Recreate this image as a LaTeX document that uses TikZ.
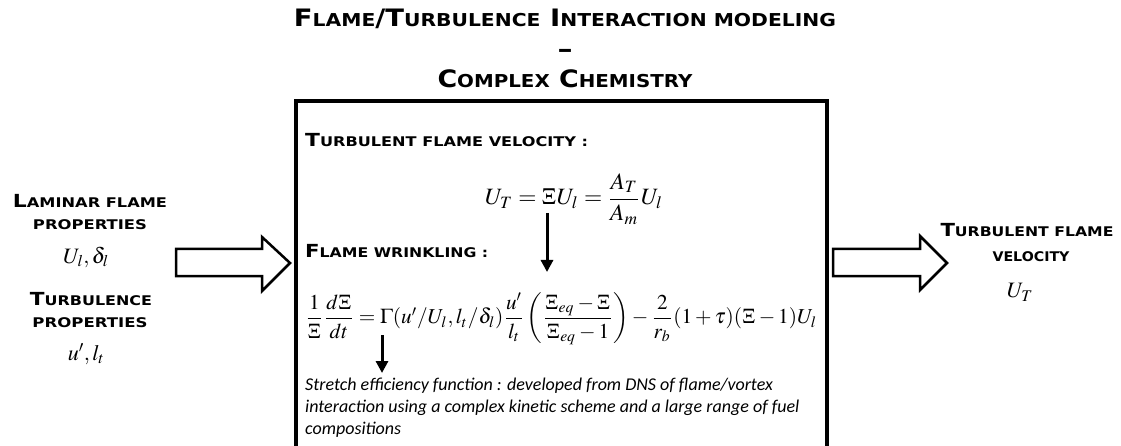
\documentclass[tikz,border=0pt]{standalone}
\usepackage{amsmath}
\usepackage{mathptmx}
\usepackage[no-math]{fontspec}
\usepackage{graphicx}
\usetikzlibrary{arrows.meta}

\newfontfamily\headfont{DejaVu Sans}
\newfontfamily\notefont{Carlito}
\newcommand\lcap[1]{\scalebox{0.74}{\MakeUppercase{#1}}}
\newcommand\fitw[2]{\resizebox{#1}{\height}{#2}}

\tikzset{
  titletxt/.style={font=\headfont\bfseries\fontsize{24}{28}\selectfont, inner sep=0pt, anchor=base},
  headtxt/.style={font=\headfont\bfseries\fontsize{18}{22}\selectfont, inner sep=0pt, anchor=base west},
  sidetxt/.style={font=\headfont\bfseries\fontsize{18}{22}\selectfont, inner sep=0pt, anchor=base},
  sidemath/.style={font=\fontsize{22}{26}\selectfont, inner sep=0pt, anchor=base},
  notetxt/.style={font=\notefont\itshape\fontsize{18}{22}\selectfont, inner sep=0pt, align=left, anchor=north west},
  framebox/.style={line width=3.5pt},
  fatarrow/.style={draw, line width=2.5pt, fill=white, line join=miter},
  downarr/.style={line width=3pt, -{Triangle[width=12pt,length=12pt]}}
}

\begin{document}
\begin{tikzpicture}[x=1pt,y=-1pt]
\useasboundingbox (0,0) rectangle (1121,446);
\clip (0,0) rectangle (1121,446);

% title
\node[titletxt] (title) at (565,27) {\fitw{542pt}{F\lcap{lame}/T\lcap{urbulence} I\lcap{nteraction modeling}}};
\node[titletxt] (dash) at (565,58) {\fitw{15pt}{–}};
\node[titletxt] (subtitle) at (565,88) {\fitw{255pt}{C\lcap{omplex} C\lcap{hemistry}}};

% central frame
\draw[framebox] (296,480) -- (296,101) -- (827,101) -- (827,480);

\node[headtxt] (velhead) at (305,147) {\fitw{283pt}{T\lcap{urbulent flame velocity :}}};
\node[inner sep=0pt] (veleq) at (574,199)
  {\resizebox{178pt}{!}{$U_T=\Xi U_l=\dfrac{A_T}{A_m}U_l$}};
\node[headtxt] (wrinkhead) at (305,258) {\fitw{183pt}{F\lcap{lame wrinkling :}}};
\node[inner sep=0pt] (wrinkeq) at (561,319)
  {\resizebox{512pt}{!}{$\dfrac{1}{\Xi}\dfrac{d\Xi}{dt}=\Gamma(u'/U_l,l_t/\delta_l)\dfrac{u'}{l_t}\left(\dfrac{\Xi_{eq}-\Xi}{\Xi_{eq}-1}\right)-\dfrac{2}{r_b}(1+\tau)(\Xi-1)U_l$}};
\node[notetxt] (stretch) at (305,378)
  {Stretch efficiency function : developed from DNS of flame/vortex\\
   interaction using a complex kinetic scheme and a large range of fuel\\
   compositions};

% arrows inside
\coordinate (xitop) at (547,213);
\coordinate (xibot) at (547,272);
\coordinate (gamtop) at (382,335);
\coordinate (gambot) at (382,373);
\draw[downarr] (xitop) -- (xibot);
\draw[downarr] (gamtop) -- (gambot);

% inputs
\node[sidetxt] (lamhead) at (90,208) {\fitw{154pt}{L\lcap{aminar flame}}};
\node[sidetxt] (lamprop) at (90,230) {\fitw{114pt}{\lcap{properties}}};
\node[sidemath] (lamvar) at (86,263) {$U_l,\delta_l$};
\node[sidetxt] (turbhead) at (91,305) {\fitw{122pt}{T\lcap{urbulence}}};
\node[sidetxt] (turbprop) at (90,327) {\fitw{115pt}{\lcap{properties}}};
\node[sidemath] (turbvar) at (86,360) {$u',l_t$};

% output
\node[sidetxt] (outhead) at (1027,237) {\fitw{173pt}{T\lcap{urbulent flame}}};
\node[sidetxt] (outprop) at (1031,262) {\fitw{77pt}{\lcap{velocity}}};
\node[sidemath] (outvar) at (1020,298) {$U_T$};

% big arrows
\draw[fatarrow] (176,249) -- (262,249) -- (262,237) -- (290,263) -- (262,291) -- (262,276) -- (176,276) -- cycle;
\draw[fatarrow] (833,249) -- (920,249) -- (920,236) -- (947,263) -- (920,290) -- (920,276) -- (833,276) -- cycle;
\end{tikzpicture}
\end{document}
